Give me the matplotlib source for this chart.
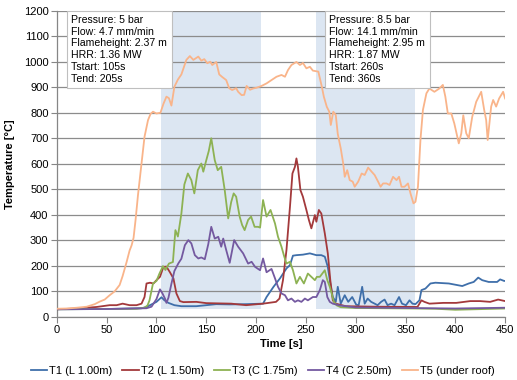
import matplotlib
matplotlib.use('Agg')
import matplotlib.pyplot as plt

plt.rcParams['font.family'] = ['Liberation Sans', 'DejaVu Sans']

# Messwerte (Zeit [s], Temperatur [°C]) je Thermoelement
t1_time = [0, 50, 85, 90, 96.5, 100, 105, 108, 112, 118, 125, 140, 150, 160, 173.5, 190, 207, 210.5,
           217.5, 224, 230.5, 234, 237, 240.5, 247, 254, 260.5, 265.5, 269, 272, 274.5, 277, 280, 282,
           285, 289, 292.5, 296.5, 300.5, 303, 306.5, 309, 312, 315.5, 319, 322, 325.5, 329, 332,
           335.5, 339, 343.5, 346.5, 350.5, 354, 357, 360, 364, 366, 370, 375, 380, 393.5, 407,
           413.5, 418.5, 423, 427, 433.5, 442, 445, 449, 450]
t1_temp = [30, 31, 34, 39, 52, 59, 77, 65, 55, 46, 42, 42, 46, 50, 49, 50, 52, 78,
           118, 151, 190, 203, 240, 242, 244, 249, 242, 242, 236, 196, 131, 78, 59, 118,
           52, 85, 59, 78, 48, 46, 118, 52, 72, 59, 52, 46, 59, 68, 46,
           52, 46, 78, 52, 46, 65, 52, 50, 65, 105, 111, 131, 134, 131, 121,
           131, 137, 154, 144, 137, 137, 147, 141, 141]

t2_time = [0, 20, 40, 53, 60, 66, 73, 80, 85, 88, 90, 93.5, 97, 100, 103.5, 107, 110, 113.5, 117,
           120, 123.5, 127, 140, 150, 175, 190, 207, 220, 223.5, 227, 230.5, 234, 236.5, 239,
           240.5, 242, 244.5, 247, 250.5, 253, 255.5, 259, 260.5, 263, 265.5, 269, 272, 274.5,
           277, 280, 290, 320, 362, 366, 369, 374, 388, 401, 415, 425, 435, 443, 450]
t2_temp = [30, 33, 39, 46, 46, 52, 46, 46, 52, 78, 131, 134, 131, 144, 157, 196, 197, 175, 151,
           92, 62, 58, 59, 54, 52, 46, 52, 59, 72, 144, 262, 431, 562, 588,
           621, 588, 497, 471, 419, 380, 347, 399, 373, 419, 405, 327, 249, 144,
           65, 52, 42, 40, 39, 65, 59, 52, 55, 55, 62, 62, 59, 68, 62]

t3_time = [0, 40, 80, 88, 91, 93, 96.5, 100, 103, 106.5, 109, 112.5, 116.5, 119, 121.5, 125, 128,
           131.5, 135, 138, 141.5, 145, 147, 150, 152.5, 155, 158.5, 161.5, 165, 168.5, 172, 175,
           177.5, 180, 183.5, 186, 188.5, 192, 195, 198.5, 202, 204, 207, 210.5, 214.5, 219, 222,
           225.5, 228, 230.5, 234, 237, 240.5, 244, 248, 252, 255.5, 259, 261, 264, 269, 271.5,
           274, 276, 278, 281, 285, 300, 330, 360, 380, 400, 420, 450]
t3_temp = [30, 31, 32, 36, 45, 65, 131, 141, 170, 199, 184, 209, 215, 340, 315, 405, 519,
           562, 536, 484, 575, 601, 569, 614, 650, 700, 614, 575, 588, 497, 386, 450,
           484, 471, 393, 360, 340, 380, 393, 353, 353, 350, 458, 393, 419, 366, 314,
           275, 240, 209, 216, 183, 131, 157, 131, 170, 157, 144, 157, 157, 183, 144,
           118, 90, 60, 45, 38, 35, 34, 33, 32, 28, 30, 33]

t4_time = [0, 50, 90, 95, 100, 103.5, 106, 108.5, 110, 112, 115, 118, 122, 125, 128.5, 132, 135,
           138.5, 142, 145, 148.5, 152, 155, 158.5, 162, 165, 167, 170, 173.5, 178, 182, 187, 192,
           195.5, 199, 204, 207, 210.5, 215.5, 219, 222, 225.5, 229, 232, 235.5, 239, 242, 245.5,
           249, 252, 257, 260.5, 264, 267, 269, 271.5, 274, 277, 284, 300, 350, 400, 450]
t4_temp = [30, 31, 34, 40, 70, 108, 92, 72, 55, 75, 130, 180, 210, 228, 281, 301, 288,
           242, 229, 233, 226, 285, 353, 307, 314, 275, 307, 262, 212, 301, 275, 249, 209,
           216, 196, 183, 229, 175, 188, 151, 118, 92, 85, 65, 72, 59, 65, 59,
           72, 65, 78, 78, 105, 144, 137, 78, 59, 52, 45, 37, 35, 33, 36]

t5_time = [0, 10, 20, 30, 38, 43, 48, 53, 58, 63, 66, 70, 73, 75, 77, 79, 81.5, 85, 88, 91.5, 94,
           96.5, 100, 104, 107, 110, 112.5, 115, 118, 121.5, 125, 128, 130, 133.5, 137, 140, 142,
           145, 148, 151, 154, 156, 160, 163, 166, 170, 173, 176, 180, 182, 185.5, 188, 190.5,
           194, 197, 200.5, 205.5, 210.5, 215.5, 220.5, 225.5, 229, 232, 235.5, 240.5, 244, 247,
           250.5, 254, 257, 262.5, 266, 268, 271, 273.5, 275, 277.5, 280, 282, 285, 287.5, 289,
           291.5, 294, 297, 299, 302.5, 306, 309, 312.5, 316, 319, 322.5, 325, 327.5, 331, 334,
           337.5, 341, 343.5, 346, 349, 352.5, 355, 358, 360, 362.5, 365, 367.5, 371, 374, 379,
           384, 387.5, 390, 392.5, 396, 399, 403.5, 406, 408, 411, 413.5, 417, 421, 426, 429,
           431, 432.5, 436, 438, 441, 444, 448, 450]
t5_temp = [32, 33, 36, 40, 50, 60, 68, 85, 100, 125, 160, 215, 260, 280, 310, 380, 480, 603, 706, 771, 795,
           804, 797, 800, 835, 863, 857, 828, 902, 930, 950, 985, 1007, 1022, 1007, 1015, 1020,
           1004, 1010, 994, 1000, 987, 999, 950, 940, 928, 896, 889, 896, 882, 869, 870, 905,
           890, 895, 898, 905, 915, 928, 941, 948, 941, 967, 987, 999, 987, 995,
           974, 980, 965, 961, 902, 863, 823, 804, 752, 804, 791, 717, 660, 600, 549,
           575, 536, 530, 510, 530, 562, 556, 585, 569, 556, 530, 510, 523, 523, 517,
           549, 536, 549, 510, 510, 523, 484, 445, 451, 510, 693, 811, 876, 895, 882,
           895, 909, 863, 797, 797, 758, 680, 719, 790, 719, 700, 784, 843, 882, 811,
           771, 693, 824, 850, 824, 856, 882, 856]

series = [
    (t1_time, t1_temp, 'T1 (L 1.00m)', '#3F6FAA'),
    (t2_time, t2_temp, 'T2 (L 1.50m)', '#A3393B'),
    (t3_time, t3_temp, 'T3 (C 1.75m)', '#8DB253'),
    (t4_time, t4_temp, 'T4 (C 2.50m)', '#7459A0'),
    (t5_time, t5_temp, 'T5 (under roof)', '#F9B48A'),
]

# Versuchsphasen (Brenner an/aus)
phase_start = [105, 260]
phase_end = [205, 360]
phase_text = [
    'Pressure: 5 bar\nFlow: 4.7 mm/min\nFlameheight: 2.37 m\nHRR: 1.36 MW\nTstart: 105s\nTend: 205s',
    'Pressure: 8.5 bar\nFlow: 14.1 mm/min\nFlameheight: 2.95 m\nHRR: 1.87 MW\nTstart: 260s\nTend: 360s',
]
text_x = [14.5, 273.5]

fig = plt.figure(figsize=(5.17, 3.80), dpi=100)
ax = fig.add_axes([0.110, 0.166, 0.867, 0.806])

for s, e in zip(phase_start, phase_end):
    ax.fill_between([s, e], 30, 1200, color='#DCE6F2', lw=0, zorder=1)

for t, v, name, col in series:
    ax.plot(t, v, color=col, lw=1.3, label=name, zorder=3)

for x, txt in zip(text_x, phase_text):
    ax.text(x, 1183, txt, fontsize=7.6, va='top', ha='left', linespacing=1.22, zorder=5,
            bbox=dict(boxstyle='square,pad=0.42', fc='white', ec='#BFBFBF', lw=0.8))

ax.set_xlim(0, 450)
ax.set_ylim(0, 1200)
ax.set_xticks(range(0, 451, 50))
ax.set_yticks(range(0, 1201, 100))
ax.tick_params(labelsize=8, color='#868686', length=4, width=0.8, pad=2)
ax.grid(axis='y', color='#8C8C8C', lw=0.9)
for side in ['top', 'right']:
    ax.spines[side].set_visible(False)
for side in ['left', 'bottom']:
    ax.spines[side].set_color('#868686')
    ax.spines[side].set_linewidth(0.9)

ax.set_xlabel('Time [s]', fontsize=8, fontweight='bold', labelpad=3)
ax.set_ylabel('Temperature [°C]', fontsize=8, fontweight='bold', labelpad=6)

fig.legend(loc='center', bbox_to_anchor=(0.508, 0.025), ncol=5, frameon=False, fontsize=8,
           handlelength=1.5, handletextpad=0.15, columnspacing=0.9)

fig.savefig('out.png', dpi=100)
